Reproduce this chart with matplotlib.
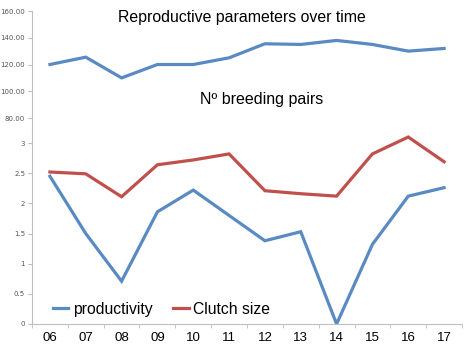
import matplotlib
matplotlib.use("Agg")
import matplotlib.pyplot as plt
from matplotlib.lines import Line2D

years = ["06", "07", "08", "09", "10", "11", "12", "13", "14", "15", "16", "17"]
breeding_pairs = [120, 125.5, 110, 120, 120, 125, 135.5, 135, 138, 135, 130, 132]
productivity = [2.45, 1.5, 0.71, 1.86, 2.22, 1.8, 1.38, 1.53, 0.0, 1.32, 2.12, 2.26]
clutch_size = [2.52, 2.49, 2.11, 2.64, 2.72, 2.82, 2.21, 2.16, 2.12, 2.82, 3.10, 2.69]
top_ticks = [80, 100, 120, 140, 160]
bottom_ticks = [0, 0.5, 1, 1.5, 2, 2.5, 3]

BLUE = "#5A8AC2"
RED = "#C0504D"
SPINE = "#BFBFBF"
W, H = 470, 348
fig = plt.figure(figsize=(W / 100, H / 100), dpi=100)

def box(x0, y0, x1, y1):
    return [x0 / W, 1 - y1 / H, (x1 - x0) / W, (y1 - y0) / H]

x = list(range(len(years)))

# top axes: breeding pairs
ax1 = fig.add_axes(box(32, 11, 462, 131))
ax1.plot(x, breeding_pairs, color=BLUE, lw=2.3, solid_joinstyle="miter")
ax1.set_xlim(-0.5, len(years) - 0.5)
ax1.set_ylim(70.3, 160)
ax1.set_yticks(top_ticks)
ax1.set_yticklabels([f"{v:.2f}" for v in top_ticks])
for s in ["top", "right", "bottom"]:
    ax1.spines[s].set_visible(False)
ax1.spines["left"].set_color(SPINE)
ax1.set_xticks([])
ax1.tick_params(axis="y", length=3, color=SPINE, labelsize=5, labelcolor="#555555", pad=2)
ax1.text(0.487, 1.01, "Reproductive parameters over time", transform=ax1.transAxes,
         ha="center", va="top", fontsize=11.4, family="Liberation Sans")
ax1.text(0.533, 0.26, "Nº breeding pairs", transform=ax1.transAxes,
         ha="center", va="center", fontsize=11.5, family="Liberation Sans")

# bottom axes
ax2 = fig.add_axes(box(32, 131, 462, 324))
ax2.plot(x, productivity, color=BLUE, lw=2.3, solid_joinstyle="miter")
ax2.plot(x, clutch_size, color=RED, lw=2.3, solid_joinstyle="miter")
ax2.set_xlim(-0.5, len(years) - 0.5)
ax2.set_ylim(0, 3.2)
ax2.set_yticks(bottom_ticks)
ax2.set_yticklabels(["0", "0.5", "1", "1.5", "2", "2.5", "3"])
ax2.set_xticks(x)
ax2.set_xticklabels(years, family="Liberation Sans")
ax2.set_xticks([i - 0.5 for i in range(len(years) + 1)], minor=True)
for s in ["top", "right"]:
    ax2.spines[s].set_visible(False)
ax2.spines["left"].set_color(SPINE)
ax2.spines["bottom"].set_color(SPINE)
ax2.tick_params(axis="y", length=3, color=SPINE, labelsize=5, labelcolor="#555555", pad=2)
ax2.tick_params(axis="x", which="major", length=0, labelsize=9.5, pad=6)
ax2.tick_params(axis="x", which="minor", length=3, color=SPINE)

handles = [Line2D([], [], color=BLUE, lw=2.3), Line2D([], [], color=RED, lw=2.3)]
ax2.legend(handles, ["productivity", "Clutch size"], loc="lower left",
           bbox_to_anchor=(0.015, -0.035), ncol=2, frameon=False,
           prop={"family": "Liberation Sans", "size": 11.3},
           handlelength=1.0, handletextpad=0.3, columnspacing=1.3)

fig.savefig("out.png", dpi=100)
